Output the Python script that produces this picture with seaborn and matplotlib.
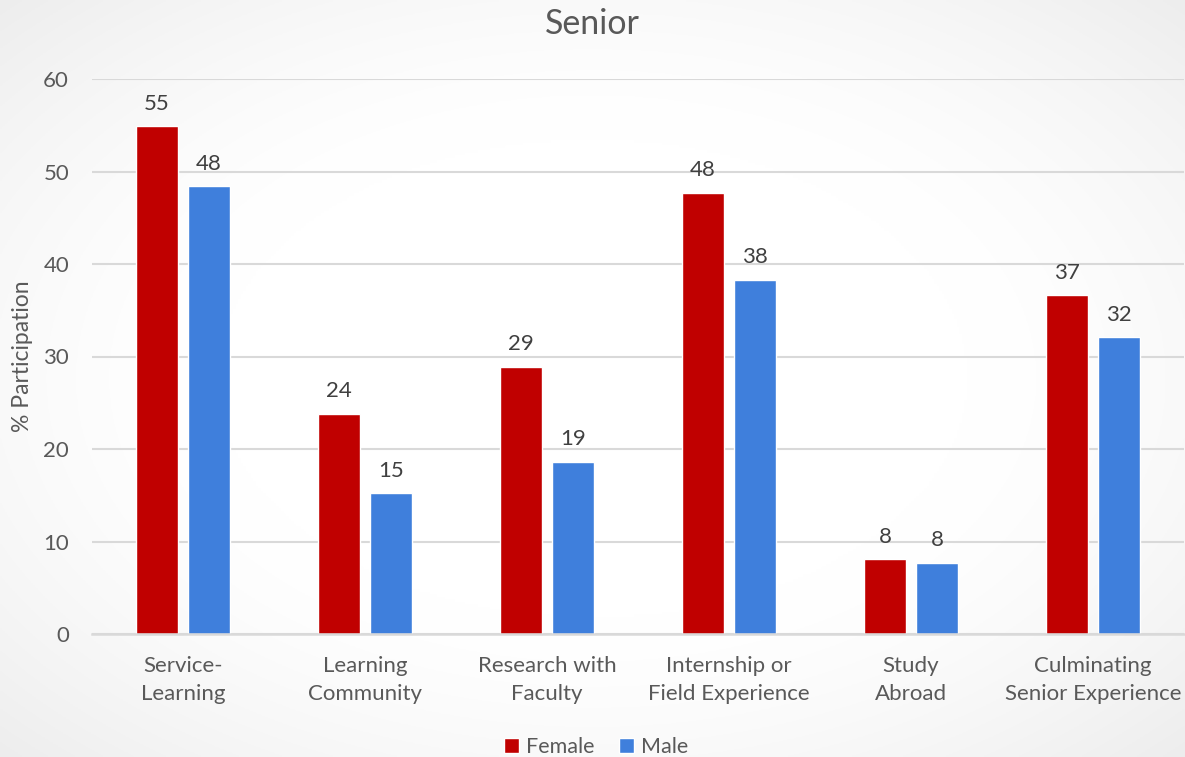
import numpy as np
import pandas as pd
import seaborn as sns
import matplotlib
matplotlib.use("Agg")
import matplotlib.pyplot as plt

# Participation in high-impact practices among seniors, by gender
categories = [
    "Service-\nLearning",
    "Learning\nCommunity",
    "Research with\nFaculty",
    "Internship or\nField Experience",
    "Study\nAbroad",
    "Culminating\nSenior Experience",
]
female = [54.9, 23.8, 28.9, 47.7, 8.1, 36.6]
male = [48.4, 15.2, 18.6, 38.3, 7.7, 32.1]
y_ticks = [0, 10, 20, 30, 40, 50, 60]

df = pd.DataFrame({
    "Activity": categories * 2,
    "Gender": ["Female"] * len(categories) + ["Male"] * len(categories),
    "Participation": female + male,
})

sns.set_theme(style="white")
plt.rcParams["font.family"] = ["Lato", "DejaVu Sans"]
text_color = "#595959"
grid_color = "#D9D9D9"
palette = {"Female": "#C00000", "Male": "#3F7FDC"}

fig = plt.figure(figsize=(11.85, 7.57), dpi=100)

# soft radial background shading
bg = fig.add_axes([0, 0, 1, 1], zorder=-10)
yy, xx = np.mgrid[-1:1:300j, -1:1:470j]
r = np.sqrt(xx ** 2 + yy ** 2) / np.sqrt(2)
shade = 1.0 - 0.07 * np.clip((r - 0.45) / 0.55, 0, 1) ** 1.5
bg.imshow(np.dstack([shade] * 3), aspect="auto", extent=[0, 1, 0, 1])
bg.set_axis_off()

ax = fig.add_axes([92 / 1185, 1 - 634 / 757, (1184 - 92) / 1185, (634 - 79) / 757])
ax.set_facecolor("none")

sns.barplot(
    data=df, x="Activity", y="Participation", hue="Gender",
    palette=palette, width=0.571, gap=0.21, ax=ax,
    saturation=1, errorbar=None, legend=True,
)

for container in ax.containers:
    ax.bar_label(container, labels=[f"{v:.0f}" for v in container.datavalues],
                 padding=9, fontsize=16, color="#404040")

ax.set_xlim(-0.5, len(categories) - 0.5)
ax.set_ylim(0, 60)
ax.set_yticks(y_ticks)
ax.yaxis.grid(True, color=grid_color, linewidth=1.5)
ax.set_axisbelow(True)
for side in ["top", "right", "left"]:
    ax.spines[side].set_visible(False)
ax.spines["bottom"].set_color(grid_color)
ax.spines["bottom"].set_linewidth(1.8)

ax.tick_params(axis="y", length=0, pad=16.5, labelsize=16, labelcolor=text_color)
ax.tick_params(axis="x", length=0, pad=16, labelsize=16, labelcolor=text_color)
for lbl in ax.get_xticklabels():
    lbl.set_linespacing(1.48)

ax.set_xlabel("")
ax.set_ylabel("% Participation", fontsize=16.5, color=text_color)
ax.yaxis.set_label_coords(-0.054, 0.5)

fig.text(0.5, 1 - 24 / 757, "Senior", ha="center", va="center",
         fontsize=24.5, color=text_color)

handles, labels = ax.get_legend_handles_labels()
ax.get_legend().remove()
fig.legend(handles, labels, loc="center", bbox_to_anchor=(0.503, 1 - 747 / 757),
           ncol=2, frameon=False, fontsize=15.5, labelcolor=text_color,
           handlelength=0.7, handleheight=0.7, handletextpad=0.35, columnspacing=1.1)

fig.savefig("out.png", dpi=100)
